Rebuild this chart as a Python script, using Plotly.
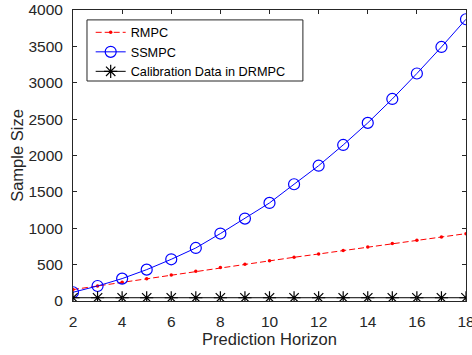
import plotly.graph_objects as go

horizon = list(range(2, 19))
rmpc = [157, 207, 257, 307, 358, 410, 459, 505, 554, 601, 646, 693, 742, 789, 835, 880, 926]
ssmpc = [120, 206, 308, 431, 573, 729, 927, 1133, 1348, 1605, 1860, 2145, 2448, 2777, 3127, 3492, 3873]
calib = [45] * len(horizon)

FONT = "Liberation Sans, Arial, sans-serif"
AX = "#262626"

fig = go.Figure()
fig.add_trace(go.Scatter(
    x=horizon, y=rmpc, name="RMPC", mode="lines+markers",
    line=dict(color="#ff0000", width=1, dash="6px,3px"),
    marker=dict(symbol="circle", size=3.5, color="#ff0000"),
))
fig.add_trace(go.Scatter(
    x=horizon, y=ssmpc, name="SSMPC", mode="lines+markers",
    line=dict(color="#0000ff", width=1),
    marker=dict(symbol="circle-open", size=11, color="#0000ff", line=dict(width=1.2, color="#0000ff")),
))
fig.add_trace(go.Scatter(
    x=horizon, y=calib, name="Calibration Data in DRMPC", mode="lines+markers",
    line=dict(color="#000000", width=1),
    marker=dict(symbol="asterisk-open", size=11, color="#000000", line=dict(width=1.2, color="#000000")),
))

axis_common = dict(
    showline=True, linecolor=AX, linewidth=1, mirror="allticks",
    ticks="inside", ticklen=4, tickcolor=AX, tickwidth=1,
    showgrid=False, zeroline=False, automargin=False,
    tickfont=dict(family=FONT, size=15.5, color=AX),
)

fig.update_layout(
    width=472, height=355,
    margin=dict(l=73, r=6, t=10, b=54),
    paper_bgcolor="white", plot_bgcolor="white",
    font=dict(family=FONT, color=AX),
    xaxis=dict(range=[2, 18], tickvals=list(range(2, 19, 2)),
               title=dict(text="Prediction Horizon", font=dict(family=FONT, size=16.5, color=AX), standoff=3),
               ticklabelstandoff=6, ticklabeloverflow="allow", **axis_common),
    yaxis=dict(range=[0, 4000], tickvals=list(range(0, 4001, 500)),
               title=dict(text="Sample Size", font=dict(family=FONT, size=16.5, color=AX), standoff=0),
               ticklabelstandoff=6, **axis_common),
    legend=dict(x=0.045, y=0.974, xanchor="left", yanchor="top",
                bgcolor="rgba(0,0,0,0)", borderwidth=0,
                font=dict(family=FONT, size=12.7, color="#000000"),
                tracegroupgap=0, itemwidth=30),
    showlegend=True,
    shapes=[dict(type="rect", xref="paper", yref="paper",
                 x0=0.0356, x1=0.585, y0=0.756, y1=0.966,
                 line=dict(color=AX, width=1), fillcolor="rgba(0,0,0,0)", layer="above")],
)

fig.write_html("out.html")
